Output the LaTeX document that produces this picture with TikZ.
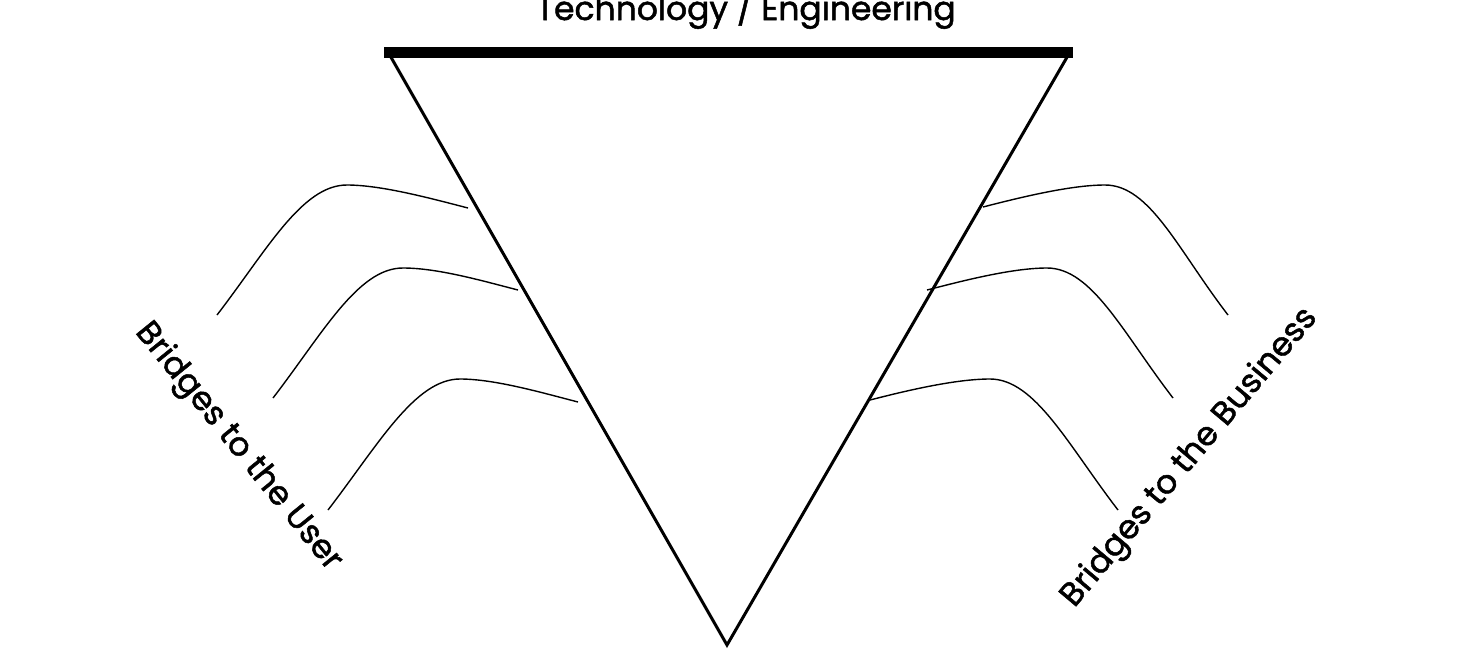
\documentclass[tikz,border=0pt]{standalone}
\usepackage{fontspec}
\setmainfont{Poppins}[FakeBold=1.5]
\begin{document}
\begin{tikzpicture}[x=1pt,y=-1pt,
  edge/.style={line width=3pt},
  bar/.style={line width=11pt},
  bridge/.style={line width=1.4pt},
  lbl/.style={font=\fontsize{33}{40}\selectfont, inner sep=0pt}]
\useasboundingbox (0,0) rectangle (1460,657);
\coordinate (TL) at (388,52);
\coordinate (TR) at (1070,52);
\coordinate (A) at (727,645);
\coordinate (BL) at (384,52);
\coordinate (BR) at (1073,52);
\draw[edge] (TL) -- (A) -- (TR);
\draw[bar] (BL) -- (BR);
% left bridges
\foreach \n/\sx/\sy/\px/\py/\ex/\ey in {1/217/315/347/185/468/208, 2/273/398/403/268/518/290, 3/328/510/460/379/578/402}{
  \coordinate (LS\n) at (\sx,\sy);
  \coordinate (LP\n) at (\px,\py);
  \coordinate (LE\n) at (\ex,\ey);
  \draw[bridge] (LS\n) .. controls +(50,-65) and +(-45,0) .. (LP\n) .. controls +(35,0) and +(-35,-9) .. (LE\n);
}
% right bridges
\foreach \n/\sx/\sy/\px/\py/\ex/\ey in {1/983/207/1105/185/1228/315, 2/927/290/1047/268/1173/398, 3/870/400/990/379/1118/510}{
  \coordinate (RS\n) at (\sx,\sy);
  \coordinate (RP\n) at (\px,\py);
  \coordinate (RE\n) at (\ex,\ey);
  \draw[bridge] (RS\n) .. controls +(35,-9) and +(-35,0) .. (RP\n) .. controls +(45,0) and +(-50,-65) .. (RE\n);
}
\node[lbl, anchor=base] (tech) at (746,20) {Technology / Engineering};
\node[lbl, rotate=-51] (user) at (238,447) {Bridges to the User};
\node[lbl, rotate=50] (biz) at (1190,458) {Bridges to the Business};
\end{tikzpicture}
\end{document}
